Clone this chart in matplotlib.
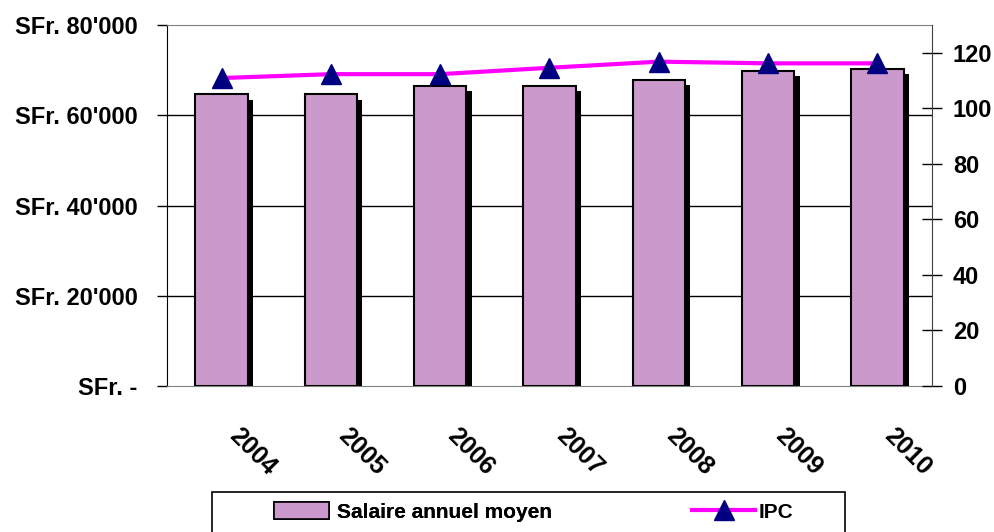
import matplotlib
matplotlib.use("Agg")
import matplotlib.pyplot as plt
import matplotlib.patheffects as pe
from matplotlib.lines import Line2D
from matplotlib.patches import Patch, Rectangle
import numpy as np

years = ["2004", "2005", "2006", "2007", "2008", "2009", "2010"]
salaire = [64600, 64600, 66500, 66500, 67900, 69900, 70250]
ipc = [110.9, 112.3, 112.3, 114.6, 116.8, 116.2, 116.2]
left_ticks = [0, 20000, 40000, 60000, 80000]
left_labels = ["SFr. -", "SFr. 20'000", "SFr. 40'000", "SFr. 60'000", "SFr. 80'000"]
right_ticks = [0, 20, 40, 60, 80, 100, 120]

plt.rcParams['font.family'] = ['Liberation Sans', 'DejaVu Sans']
plt.rcParams['font.weight'] = 'bold'

fig = plt.figure(figsize=(9.94, 5.32), dpi=100)
ax = fig.add_axes([0.168, 0.2744, 0.7696, 0.6786])
x = np.arange(len(years))

shadow = [pe.SimplePatchShadow(offset=(3.8, -3.8), shadow_rgbFace='black', alpha=1.0), pe.Normal()]
bars = ax.bar(x, salaire, width=0.48, color='#CC99CC', edgecolor='black', linewidth=1.5, zorder=3)
for b in bars:
    b.set_path_effects(shadow)

ax.set_xlim(-0.5, len(years) - 0.5)
ax.set_ylim(0, 80000)
ax.set_yticks(left_ticks)
ax.set_yticklabels(left_labels, fontsize=17, fontweight='bold')
ax.tick_params(axis='y', direction='out', length=7, width=1, pad=14)
for yv in left_ticks[1:-1]:
    ax.axhline(yv, color='black', linewidth=1, zorder=1)

ax.set_xticks(x)
ax.set_xticklabels(years, rotation=-45, ha='left', va='top', fontsize=18, fontweight='bold',
                   rotation_mode='anchor')
ax.tick_params(axis='x', length=0, pad=27)

ax.spines['top'].set_color('#808080')
ax.spines['bottom'].set_color('#808080')
ax.spines['left'].set_color('black')
ax.spines['right'].set_visible(False)

ax2 = ax.twinx()
ax2.plot(x, ipc, color='#FF00FF', linewidth=3, marker='^', markersize=14,
         markerfacecolor='#000080', markeredgecolor='#000080', zorder=5)
ax2.set_ylim(0, 130)
ax2.set_yticks(right_ticks)
ax2.set_yticklabels([str(v) for v in right_ticks], fontsize=17, fontweight='bold')
ax2.tick_params(axis='y', direction='inout', length=14, width=1, pad=8)
ax2.spines['right'].set_color('#404040')
for s in ['top', 'bottom', 'left']:
    ax2.spines[s].set_visible(False)

# shift the rotated year labels to the right of each bar
offset = matplotlib.transforms.ScaledTranslation(14 / 72, 0, fig.dpi_scale_trans)
for lbl in ax.get_xticklabels():
    lbl.set_transform(lbl.get_transform() + offset)

# legend box, partly running off the bottom edge
fig.add_artist(Rectangle((212 / 994, -0.05), 633 / 994, 0.05 + 40 / 532,
                         transform=fig.transFigure, facecolor='white', edgecolor='black', linewidth=1.2))
leg1 = fig.legend(handles=[Patch(facecolor='#CC99CC', edgecolor='black', linewidth=1.2)],
                  labels=['Salaire annuel moyen'], loc='center left',
                  bbox_to_anchor=(266 / 994, 1 - 512 / 532), frameon=False,
                  prop={'size': 15, 'weight': 'bold'}, handlelength=2.6, handleheight=0.9,
                  handletextpad=0.4, borderaxespad=0)
leg2 = fig.legend(handles=[Line2D([], [], color='#FF00FF', linewidth=3, marker='^', markersize=15,
                                  markerfacecolor='#000080', markeredgecolor='#000080')],
                  labels=['IPC'], loc='center left',
                  bbox_to_anchor=(684 / 994, 1 - 512 / 532), frameon=False,
                  prop={'size': 15, 'weight': 'bold'}, handlelength=3.0,
                  handletextpad=0.2, borderaxespad=0)
fig.add_artist(leg1)

fig.savefig('out.png', dpi=100)
